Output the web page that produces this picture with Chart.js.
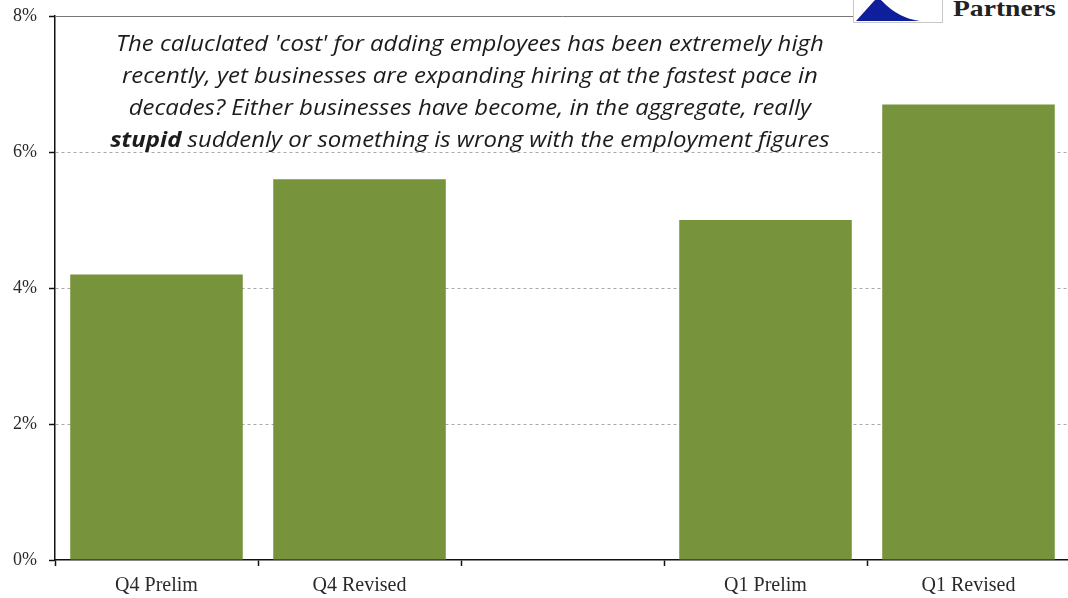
<!DOCTYPE html>
<html>
<head>
<meta charset="utf-8">
<script src="https://cdn.jsdelivr.net/npm/chart.js@4"></script>
<style>
  html, body { margin: 0; padding: 0; overflow: hidden; background: #fff; }
  #wrap { position: relative; width: 1070px; height: 598px; }
  #note {
    position: absolute; left: 0; top: 27px; width: 940px;
    font: italic 21px "Open Sans", sans-serif; line-height: 32px;
    text-align: center; color: #1c1c1c;
    transform: scaleX(1.14); transform-origin: 471px 0;
  }
  #note b { font-weight: 700; }
  #corner {
    position: absolute; left: 853px; top: 0; width: 217px; height: 23px; background: #fff;
  }
  #logo {
    position: absolute; left: 853px; top: -3px; width: 88px; height: 24px;
    background: #fff; border: 1px solid #c8c8c8;
  }
  #brand {
    position: absolute; left: 953px; top: -4px;
    font: bold 23px "Liberation Serif", serif; color: #222;
    transform: scaleX(1.2); transform-origin: left top;
  }
</style>
</head>
<body>
<div id="wrap">
  <canvas id="chart" width="1070" height="598"></canvas>
  <div id="note">
    The caluclated 'cost' for adding employees has been extremely high<br>
    recently, yet businesses are expanding hiring at the fastest pace in<br>
    decades? Either businesses have become, in the aggregate, really<br>
    <b>stupid</b> suddenly or something is wrong with the employment figures
  </div>
  <div id="corner"></div>
  <div id="logo">
    <svg width="88" height="24" viewBox="0 0 88 24">
      <path d="M2 23 L20 3 Q24 -1 28 3 Q44 20 66 23 Z" fill="#0f1f9c"/>
    </svg>
  </div>
  <div id="brand">Partners</div>
</div>
<script>
const categories = ["Q4 Prelim", "Q4 Revised", "", "Q1 Prelim", "Q1 Revised"];
const growth = [4.2, 5.6, null, 5.0, 6.7];
const yTicks = [0, 2, 4, 6, 8];

const serif = "'Liberation Serif', 'Times New Roman', serif";

// solid rule along the top edge of the plot
const topRule = {
  id: "topRule",
  afterDraw(chart) {
    const { ctx, chartArea } = chart;
    const y = Math.round(chartArea.top) + 0.5;
    ctx.save();
    ctx.strokeStyle = "#777";
    ctx.lineWidth = 1;
    ctx.beginPath();
    ctx.moveTo(chartArea.left, y);
    ctx.lineTo(chartArea.right, y);
    ctx.stroke();
    ctx.restore();
  }
};

new Chart(document.getElementById("chart"), {
  type: "bar",
  data: {
    labels: categories,
    datasets: [{
      data: growth,
      backgroundColor: "#77933c",
      barPercentage: 0.85,
      categoryPercentage: 1
    }]
  },
  plugins: [topRule],
  options: {
    responsive: false,
    animation: false,
    layout: { padding: { top: 16, left: 0, right: 0, bottom: 0 } },
    plugins: { legend: { display: false }, tooltip: { enabled: false } },
    scales: {
      x: {
        grid: { drawOnChartArea: false, tickLength: 6, tickColor: "#111", tickWidth: 1.5 },
        border: { color: "#111", width: 1.5 },
        ticks: { color: "#2a2a2a", font: { family: serif, size: 20 }, padding: 8 },
        afterFit(scale) {
          scale.height = 38;
          scale.paddingLeft = 0;
          scale.paddingRight = 0;
        }
      },
      y: {
        min: 0,
        max: 8,
        afterBuildTicks(scale) { scale.ticks = yTicks.map((v) => ({ value: v })); },
        grid: {
          color: (c) => (c.tick && (c.tick.value === 0 || c.tick.value === 8)) ? "rgba(0,0,0,0)" : "#a8a8a8",
          lineWidth: 1,
          tickLength: 6,
          tickColor: "#111",
          tickWidth: 1.5,
          tickBorderDash: []
        },
        border: { color: "#111", width: 1.5, dash: [3, 3] },
        ticks: {
          color: "#2a2a2a",
          font: { family: serif, size: 18 },
          padding: 12,
          callback: (v) => v + "%"
        },
        afterFit(scale) {
          scale.width = 55;
          scale.paddingTop = 0;
          scale.paddingBottom = 0;
        }
      }
    }
  }
});
</script>
</body>
</html>
